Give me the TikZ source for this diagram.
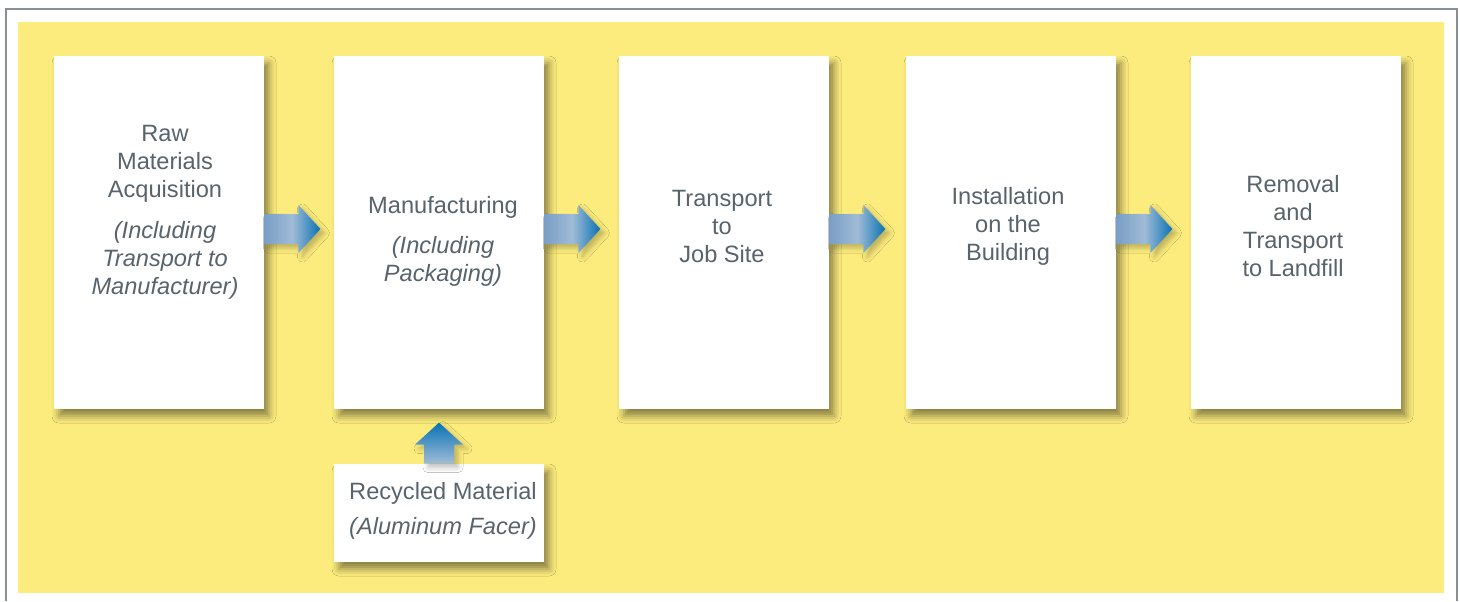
\documentclass[tikz,border=0pt]{standalone}
\usepackage{fontspec}
\setmainfont{Liberation Sans}
\usetikzlibrary{calc,shadows.blur}

\definecolor{panelyellow}{RGB}{252,236,125}
\definecolor{framegray}{RGB}{138,143,148}
\definecolor{textgray}{RGB}{88,99,108}
\definecolor{arrowdark}{RGB}{8,114,180}
\definecolor{arrowmid}{RGB}{122,158,198}
\definecolor{arrowlight}{RGB}{160,188,214}

\tikzset{
  stage/.style={fill=white, inner sep=0pt,
    minimum width=105pt, minimum height=176.5pt,
    blur shadow={shadow xshift=2.5pt, shadow yshift=-3.5pt,
                 shadow blur radius=3.5pt, shadow opacity=45}},
  stagetext/.style={text=textgray, align=center, inner sep=0pt,
    font=\fontsize{11.8}{14}\selectfont},
  harrow/.style={left color=arrowmid, right color=arrowdark,
    middle color=arrowlight,
    blur shadow={shadow xshift=2pt, shadow yshift=-2pt,
                 shadow blur radius=2.5pt, shadow opacity=25}},
  varrow/.style={top color=arrowdark, bottom color=arrowlight,
    blur shadow={shadow xshift=2pt, shadow yshift=-2pt,
                 shadow blur radius=2.5pt, shadow opacity=25}},
}

\begin{document}
\begin{tikzpicture}[x=0.5pt,y=-0.5pt]
  % ------- page size and frame -------
  \useasboundingbox (0,0) rectangle (1460,601);
  \draw[framegray, line width=1pt] (6,601) -- (6,9) -- (1457,9) -- (1457,601);
  \fill[panelyellow] (18,22) rectangle (1444,593);

  % ------- stages -------
  \node[stage] (raw)   at (159,232.5)  {};
  \node[stage] (manu)  at (439,232.5)  {};
  \node[stage] (trans) at (724,232.5)  {};
  \node[stage] (inst)  at (1011,232.5) {};
  \node[stage] (remo)  at (1296,232.5) {};
  \node[stage, minimum height=49pt] (rec) at (439,513) {};

  % ------- block arrows between stages -------
  \foreach \a/\b in {raw/manu, manu/trans, trans/inst, inst/remo}
    \path[harrow] ($(\a.east)+(0,-18.5)$) -- ++(34,0) -- ++(0,-9)
          -- ++(22,24) -- ++(-22,24) -- ++(0,-9) -- ++(-34,0) -- cycle;

  % ------- recycled material feeds manufacturing -------
  \path[varrow] ($(rec.north)+(-15,0)$) -- ++(0,-19) -- ++(-9,0)
        -- ++(24,-22) -- ++(24,22) -- ++(-9,0) -- ++(0,19) -- cycle;

  % ------- labels -------
  \node[stagetext] (raw text) at (165,212.5)
        {Raw\\Materials\\Acquisition\\[6.5pt]
         \textit{(Including}\\\textit{Transport to}\\\textit{Manufacturer)}};
  \node[stagetext] (manu text) at (443,241)
        {Manufacturing\\[6pt]\textit{(Including}\\\textit{Packaging)}};
  \node[stagetext] (trans text) at (722,226) {Transport\\to\\Job Site};
  \node[stagetext] (inst text) at (1008,226) {Installation\\on the\\Building};
  \node[stagetext] (remo text) at (1293,226)
        {Removal\\and\\Transport\\to Landfill};
  \node[stagetext] (rec text) at (443,511)
        {Recycled Material\\[3.5pt]\textit{(Aluminum Facer)}};
\end{tikzpicture}
\end{document}
